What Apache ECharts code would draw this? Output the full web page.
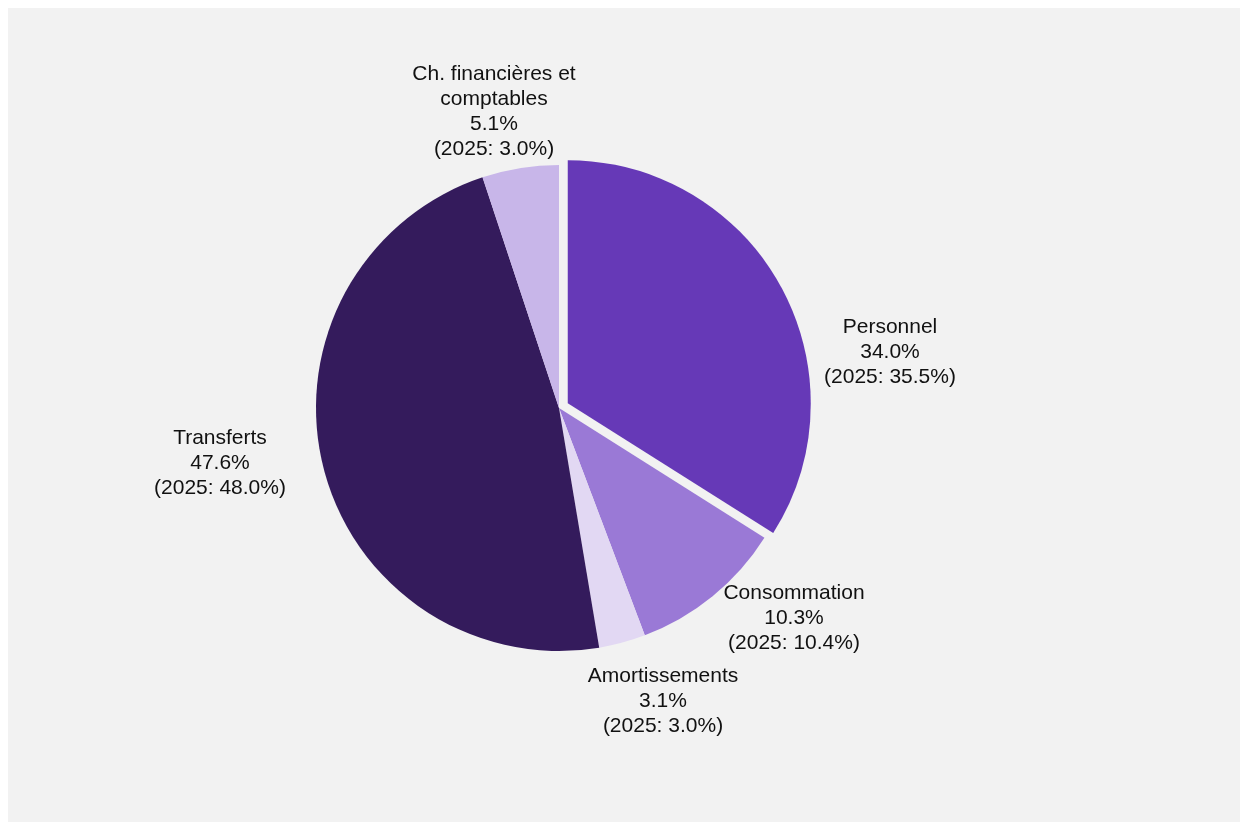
<!DOCTYPE html>
<html>
<head>
<meta charset="utf-8">
<script src="https://cdn.jsdelivr.net/npm/echarts@6/dist/echarts.min.js"></script>
<style>
html,body{margin:0;padding:0;background:#ffffff;}
#chart{width:1248px;height:830px;}
</style>
</head>
<body>
<div id="chart"></div>
<script>
const categories = ['Personnel', 'Consommation', 'Amortissements', 'Transferts', 'Ch. financières et\ncomptables'];
const values2026 = [34.0, 10.3, 3.1, 47.6, 5.1];
const values2025 = [35.5, 10.4, 3.0, 48.0, 3.0];
const colors = ['#6639b7', '#9a79d6', '#e2d8f3', '#341b5c', '#c8b6e9'];
// label anchor positions (layout only)
const labelPos = [[890, 352], [794, 618], [663, 701], [220, 463], [494, 112]];

const chart = echarts.init(document.getElementById('chart'), null, {renderer: 'canvas'});
const common = {
  type: 'pie',
  center: [559, 408],
  radius: 243,
  startAngle: 90,
  clockwise: true,
  avoidLabelOverlap: false,
  labelLine: {show: false},
  emphasis: {disabled: true}
};
chart.setOption({
  backgroundColor: '#ffffff',
  animation: false,
  graphic: [{
    type: 'rect', z: -10, silent: true,
    shape: {x: 8, y: 8, width: 1232, height: 814},
    style: {fill: '#f2f2f2'}
  }],
  series: [
    Object.assign({}, common, {
      selectedMode: 'single',
      selectedOffset: 10,
      itemStyle: {borderWidth: 0},
      label: {show: false},
      data: categories.map(function (c, i) {
        return {name: c, value: values2026[i], selected: i === 0, itemStyle: {color: colors[i]}};
      })
    }),
    Object.assign({}, common, {
      silent: true,
      selectedMode: false,
      itemStyle: {color: 'rgba(0,0,0,0)', borderWidth: 0},
      label: {
        show: true,
        position: 'outside',
        color: '#111111',
        fontFamily: 'Liberation Sans, Arial, sans-serif',
        fontSize: 21,
        lineHeight: 25,
        formatter: function (p) {
          return p.name + '\n' + values2026[p.dataIndex].toFixed(1) + '%\n(2025: ' + values2025[p.dataIndex].toFixed(1) + '%)';
        }
      },
      labelLayout: function (params) {
        const pos = labelPos[params.dataIndex];
        return {x: pos[0], y: pos[1], align: 'center', verticalAlign: 'middle'};
      },
      data: categories.map(function (c, i) {
        return {name: c, value: values2026[i]};
      })
    })
  ]
});
</script>
</body>
</html>
